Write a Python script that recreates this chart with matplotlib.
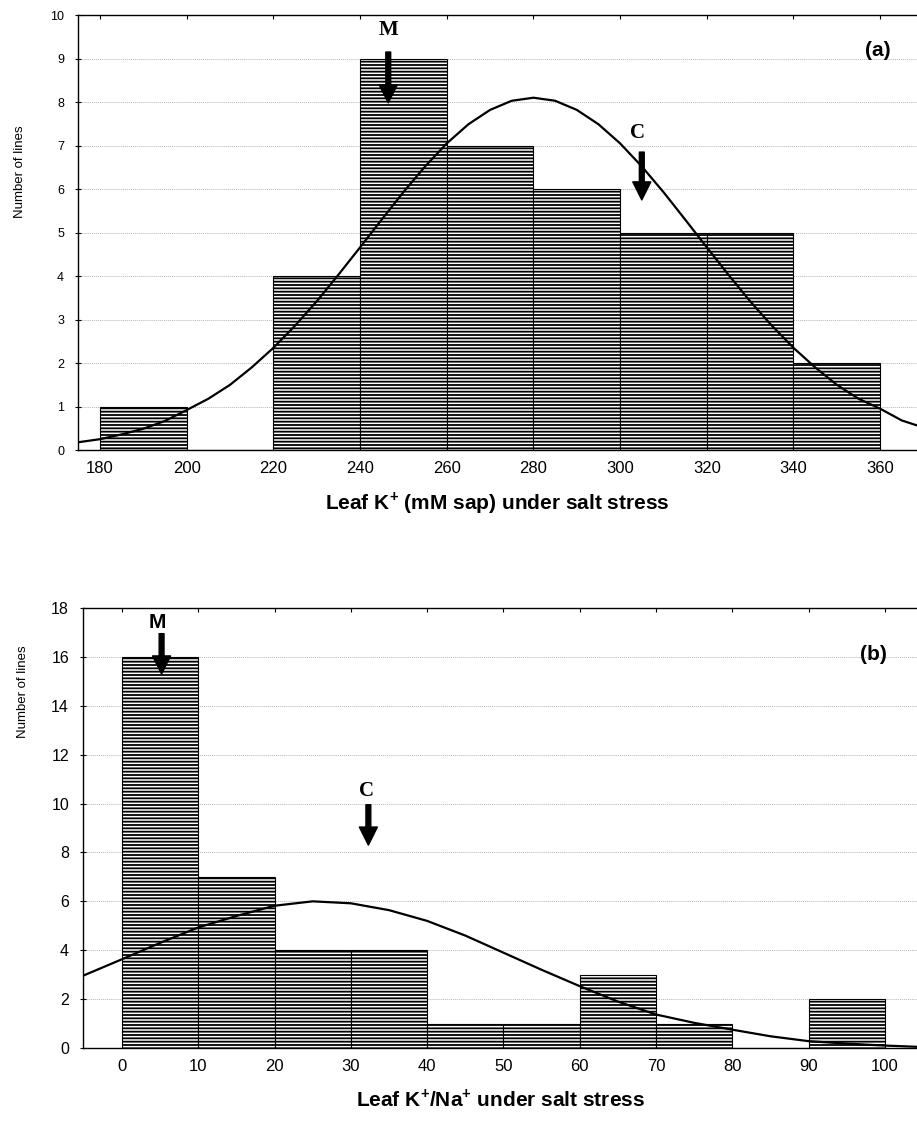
import matplotlib
matplotlib.use("Agg")
import matplotlib.pyplot as plt

plt.rcParams['font.family'] = ['Liberation Sans', 'DejaVu Sans']
plt.rcParams['mathtext.fontset'] = 'custom'
plt.rcParams['mathtext.bf'] = 'Liberation Sans:bold'
plt.rcParams['mathtext.rm'] = 'Liberation Sans'
plt.rcParams['hatch.linewidth'] = 1.3

# panel (a): leaf K+ histogram
k_edges = [180, 200, 220, 240, 260, 280, 300, 320, 340, 360]
k_counts = [1, 0, 4, 9, 7, 6, 5, 5, 2]
k_curve_x = [175, 180, 185, 190, 195, 200, 205, 210, 215, 220, 225, 230, 235, 240,
             245, 250, 255, 260, 265, 270, 275, 280, 285, 290, 295, 300, 305, 310,
             315, 320, 325, 330, 335, 340, 345, 350, 355, 360, 365, 369]
k_curve_y = [0.18, 0.25, 0.36, 0.49, 0.67, 0.92, 1.18, 1.5, 1.9, 2.35, 2.86, 3.42,
             4.03, 4.66, 5.3, 5.93, 6.52, 7.05, 7.49, 7.82, 8.03, 8.1, 8.03, 7.82,
             7.49, 7.05, 6.52, 5.93, 5.3, 4.66, 4.03, 3.42, 2.86, 2.35, 1.9, 1.5,
             1.18, 0.95, 0.68, 0.55]
k_xticks = [180, 200, 220, 240, 260, 280, 300, 320, 340, 360]
k_yticks = [0, 1, 2, 3, 4, 5, 6, 7, 8, 9, 10]

# panel (b): leaf K+/Na+ histogram
r_edges = [0, 10, 20, 30, 40, 50, 60, 70, 80, 90, 100]
r_counts = [16, 7, 4, 4, 1, 1, 3, 1, 0, 2]
r_curve_x = [-5, 0, 5, 10, 15, 20, 25, 30, 35, 40, 45, 50, 55, 60, 65, 70, 75, 80,
             85, 90, 95, 100, 105]
r_curve_y = [2.97, 3.63, 4.3, 4.93, 5.4, 5.82, 6.0, 5.92, 5.64, 5.2, 4.6, 3.9, 3.2,
             2.53, 1.9, 1.37, 1.03, 0.75, 0.48, 0.28, 0.18, 0.1, 0.04]
r_xticks = [0, 10, 20, 30, 40, 50, 60, 70, 80, 90, 100]
r_yticks = [0, 2, 4, 6, 8, 10, 12, 14, 16, 18]


def draw_panel(ax, edges, counts, cx, cy, xticks, yticks, xlim, ylim, ysize):
    widths = [edges[i + 1] - edges[i] for i in range(len(counts))]
    ax.bar(edges[:-1], counts, width=widths, align='edge', color='white',
           edgecolor='black', linewidth=0.8, hatch='-----', zorder=2)
    ax.plot(cx, cy, color='black', linewidth=1.6, zorder=3)
    ax.set_xlim(*xlim)
    ax.set_ylim(*ylim)
    ax.set_xticks(xticks)
    ax.set_yticks(yticks)
    ax.grid(axis='y', linestyle=(0, (1, 1)), color='#b5b5b5', linewidth=0.7)
    ax.set_axisbelow(True)
    ax.spines['right'].set_visible(False)
    for s in ['top', 'left', 'bottom']:
        ax.spines[s].set_linewidth(1.0)
    ax.tick_params(axis='x', bottom=False, top=True, direction='in', length=3,
                   labelsize=12, pad=8)
    ax.tick_params(axis='y', direction='inout', length=4, labelsize=ysize, pad=8)
    ax.set_ylabel('Number of lines', fontsize=9.5)


fig = plt.figure(figsize=(9.17, 11.24), dpi=100)

ax1 = fig.add_axes([0.085, 0.5996, 0.915, 0.387])
draw_panel(ax1, k_edges, k_counts, k_curve_x, k_curve_y, k_xticks, k_yticks,
           (174.9, 368.5), (0, 10), 9)
ax1.yaxis.set_label_coords(-0.062, 0.64)
ax1.set_xlabel(r'Leaf K$^\mathbf{+}$ (mM sap) under salt stress', fontsize=15,
               fontweight='bold', labelpad=10)
ax1.text(0.953, 0.918, '(a)', transform=ax1.transAxes, fontsize=15,
         fontweight='bold', ha='center', va='center')
ax1.text(246.5, 9.66, 'M', family='Liberation Serif', fontsize=15,
         fontweight='bold', ha='center', va='center')
ax1.annotate('', xy=(246.5, 7.98), xytext=(246.5, 9.15),
             arrowprops=dict(width=3.5, headwidth=13, headlength=13, color='black'))
ax1.text(304, 7.3, 'C', family='Liberation Serif', fontsize=15,
         fontweight='bold', ha='center', va='center')
ax1.annotate('', xy=(305, 5.75), xytext=(305, 6.85),
             arrowprops=dict(width=3.5, headwidth=13, headlength=13, color='black'))

ax2 = fig.add_axes([0.0905, 0.0676, 0.9095, 0.3915])
draw_panel(ax2, r_edges, r_counts, r_curve_x, r_curve_y, r_xticks, r_yticks,
           (-5.1, 104.2), (0, 18), 11.5)
ax2.yaxis.set_label_coords(-0.065, 0.81)
ax2.set_xlabel(r'Leaf K$^\mathbf{+}$/Na$^\mathbf{+}$ under salt stress', fontsize=15,
               fontweight='bold', labelpad=10)
ax2.text(0.948, 0.895, '(b)', transform=ax2.transAxes, fontsize=15,
         fontweight='bold', ha='center', va='center')
ax2.text(4.6, 17.4, 'M', fontsize=15, fontweight='bold', ha='center', va='center')
ax2.annotate('', xy=(5.2, 15.3), xytext=(5.2, 16.95),
             arrowprops=dict(width=3.5, headwidth=13, headlength=13, color='black'))
ax2.text(32.1, 10.5, 'C', family='Liberation Serif', fontsize=15,
         fontweight='bold', ha='center', va='center')
ax2.annotate('', xy=(32.3, 8.3), xytext=(32.3, 9.95),
             arrowprops=dict(width=3.5, headwidth=13, headlength=13, color='black'))

fig.savefig('out.png', dpi=100)
